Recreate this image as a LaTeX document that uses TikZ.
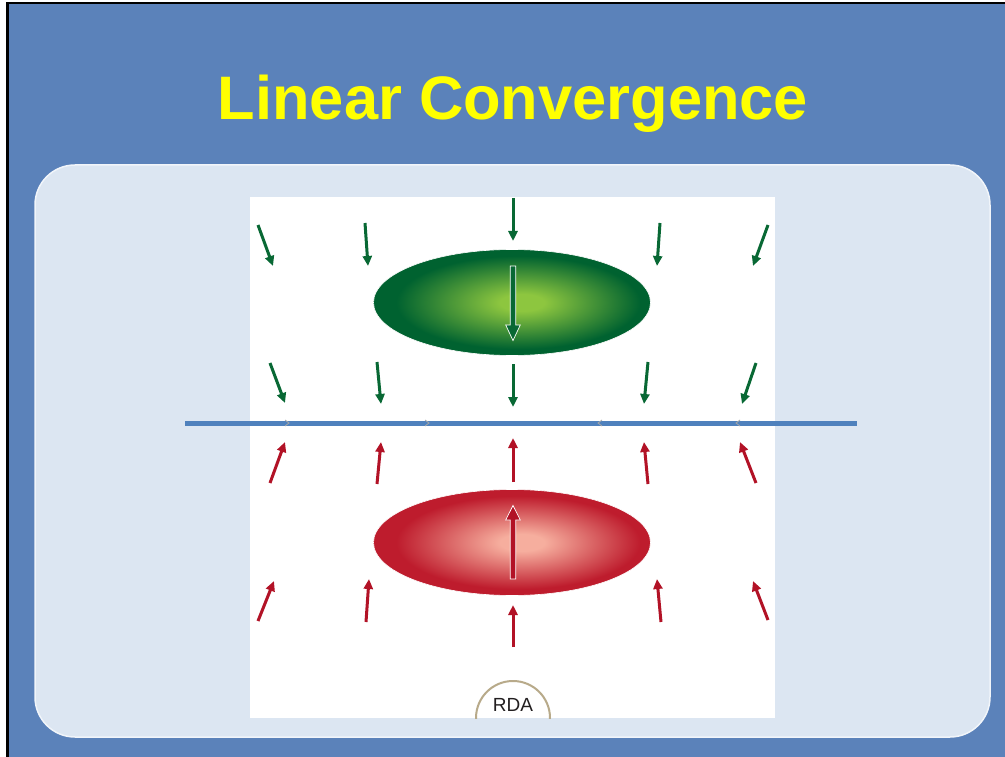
\documentclass[tikz,border=0pt]{standalone}
\usepackage{fontspec}
\setmainfont{Liberation Sans}
\usetikzlibrary{arrows.meta}
\definecolor{slideblue}{RGB}{91,130,186}
\definecolor{panel}{RGB}{220,230,242}
\definecolor{linblue}{RGB}{79,129,189}
\definecolor{titley}{RGB}{255,255,0}
\definecolor{garrow}{RGB}{8,104,52}
\definecolor{rarrow}{RGB}{178,18,38}
\definecolor{glight}{RGB}{141,198,63}
\definecolor{gdark}{RGB}{0,98,48}
\definecolor{rlight}{RGB}{246,174,158}
\definecolor{rdark}{RGB}{190,28,45}
\definecolor{rdaring}{RGB}{184,170,138}
\definecolor{rdatext}{RGB}{35,31,32}
\pgfdeclareradialshading{greenball}{\pgfpoint{2bp}{0bp}}{color(0bp)=(glight); color(4bp)=(glight); color(22bp)=(gdark); color(25bp)=(gdark); color(50bp)=(gdark)}
\pgfdeclareradialshading{redball}{\pgfpoint{2bp}{0bp}}{color(0bp)=(rlight); color(4bp)=(rlight); color(22bp)=(rdark); color(25bp)=(rdark); color(50bp)=(rdark)}
\tikzset{
  garr/.style={draw=garrow, line width=3pt, -{Triangle[length=10pt,width=9pt]}},
  rarr/.style={draw=rarrow, line width=3pt, -{Triangle[length=10pt,width=9pt]}},
  tick/.style={draw=gray!70, line width=0.8pt},
  bigarrow/.style={line width=0.7pt, draw=white, line join=miter},
}
\begin{document}
\begin{tikzpicture}[x=1pt,y=-1pt]
\useasboundingbox (0,0) rectangle (1005,757);
\fill[white] (0,0) rectangle (1005,757);
% slide background
\fill[slideblue] (8,3.5) rectangle (1005,757);
\draw[black, line width=2.5pt] (7.5,757) -- (7.5,3) -- (1005,3);
% panel
\draw[draw=white!60!panel, line width=1.5pt, fill=panel, rounded corners=40pt] (35,165) rectangle (990,737);
% title
\node[anchor=base, text=titley, font=\fontsize{61.4}{70}\selectfont\bfseries, inner sep=0pt] (title) at (513,120) {Linear Convergence};
% white figure area
\fill[white] (250,197) rectangle (775,718);
% RDA half circle
\begin{scope}
\clip (250,197) rectangle (775,718);
\draw[rdaring, line width=2pt] (513,718) circle [radius=37];
\end{scope}
\node[anchor=base, text=rdatext, font=\fontsize{19}{22}\selectfont, inner sep=0pt] (rda) at (513,711) {RDA};
% ellipses
\shade[shading=greenball] (512,302.5) ellipse [x radius=138.5, y radius=53];
\shade[shading=redball] (512,542.5) ellipse [x radius=138.5, y radius=53];
\draw[white, line width=0.6pt] (512,302.5) ellipse [x radius=138.5, y radius=53];
\draw[white, line width=0.6pt] (512,542.5) ellipse [x radius=138.5, y radius=53];
% inner big arrows
\filldraw[bigarrow, fill=garrow] (510.2,266) -- (515.8,266) -- (515.8,325) -- (520.3,325) -- (513,340.5) -- (505.7,325) -- (510.2,325) -- cycle;
\filldraw[bigarrow, fill=rarrow] (510.2,579) -- (515.8,579) -- (515.8,520) -- (520.3,520) -- (513,505.5) -- (505.7,520) -- (510.2,520) -- cycle;
% horizontal line
\draw[linblue, line width=5pt] (185,423) -- (857,423);
\draw[tick] (285,420) -- (289,423) -- (285,426);
\draw[tick] (425,420) -- (429,423) -- (425,426);
\draw[tick] (602,420) -- (598,423) -- (602,426);
\draw[tick] (740,420) -- (736,423) -- (740,426);
% green arrows, top row
\draw[garr] (258,225) -- (273,266);
\draw[garr] (365,223) -- (368,266);
\draw[garr] (513,198) -- (513,241);
\draw[garr] (660,223) -- (657,266);
\draw[garr] (768,225) -- (753,266);
% green arrows, second row
\draw[garr] (270,363) -- (285,403);
\draw[garr] (377,362) -- (381,404);
\draw[garr] (513,364) -- (513,407);
\draw[garr] (648,362) -- (644,404);
\draw[garr] (756,363) -- (742,404);
% red arrows, first row
\draw[rarr] (270,483) -- (285,442);
\draw[rarr] (377,484) -- (381,442);
\draw[rarr] (513,482) -- (513,438);
\draw[rarr] (648,484) -- (644,442);
\draw[rarr] (756,483) -- (740,442);
% red arrows, second row
\draw[rarr] (258,621) -- (274,581);
\draw[rarr] (366,622) -- (369,579);
\draw[rarr] (513,647) -- (513,605);
\draw[rarr] (661,622) -- (657,579);
\draw[rarr] (768,620) -- (753,581);
\end{tikzpicture}
\end{document}
